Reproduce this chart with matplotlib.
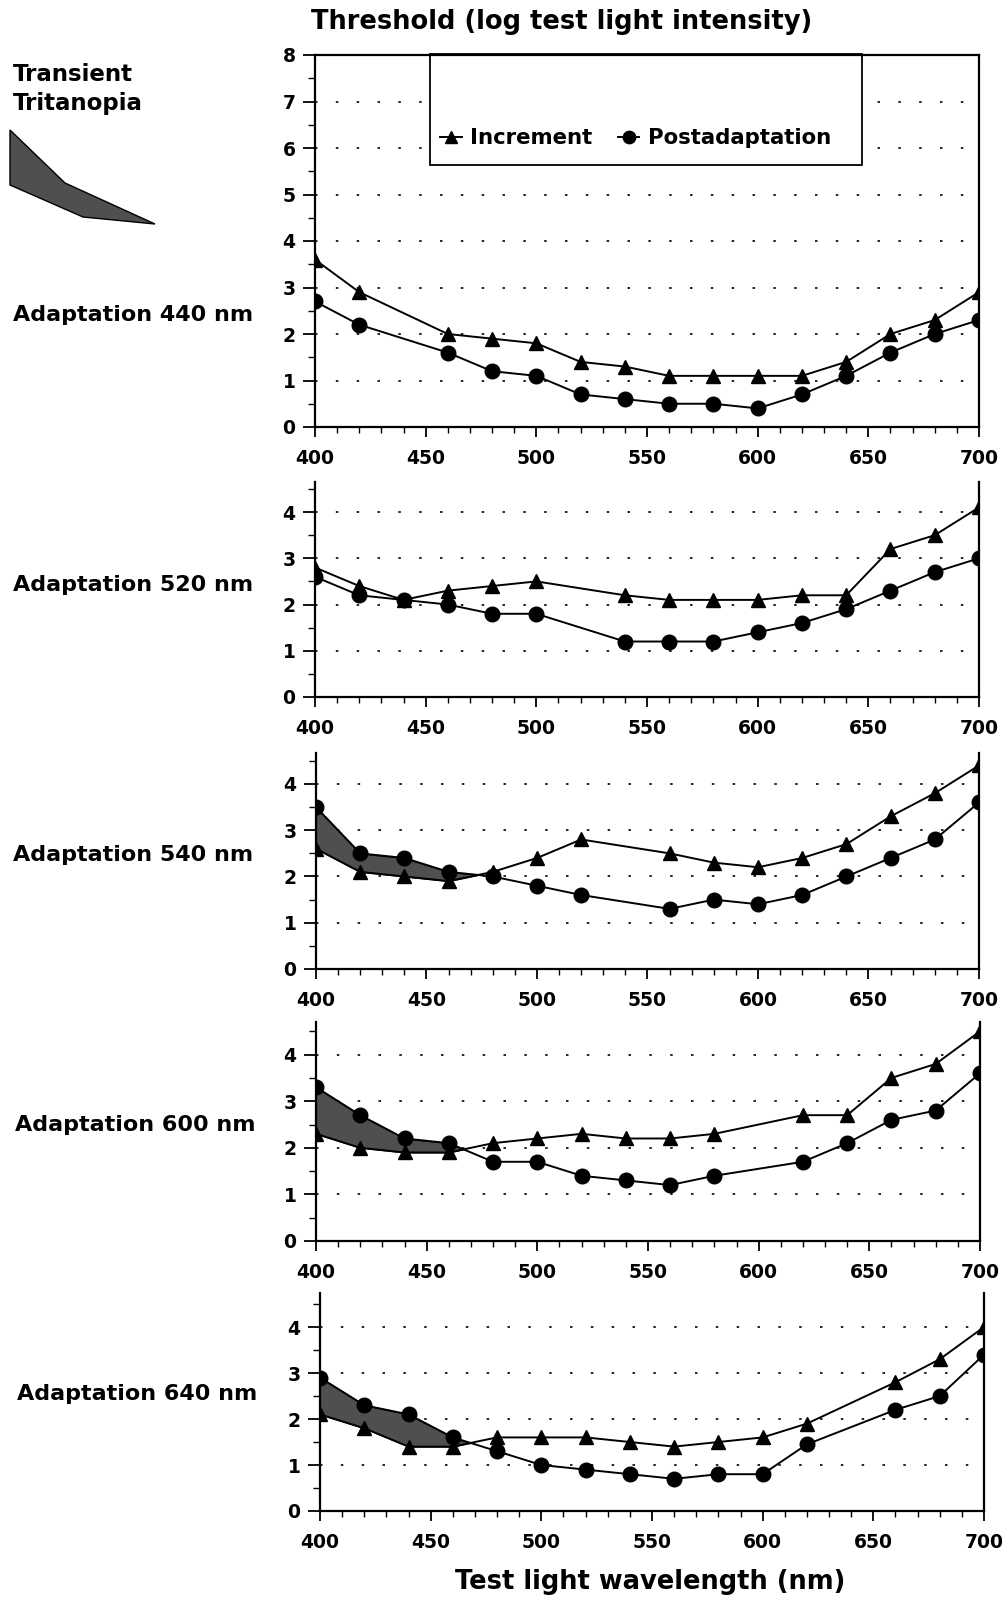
import numpy as np
import matplotlib
matplotlib.use("Agg")
import matplotlib.pyplot as plt
from matplotlib.patches import Rectangle, Polygon
from matplotlib.ticker import MultipleLocator

plt.rcParams['font.family'] = ['DejaVu Sans']
plt.rcParams['font.weight'] = 'bold'

# ---------------- Datos ----------------
adaptacion = ["440", "520", "540", "600", "640"]

x_440 = [400, 420, 460, 480, 500, 520, 540, 560, 580, 600, 620, 640, 660, 680, 700]
inc_440 = [3.6, 2.9, 2.0, 1.9, 1.8, 1.4, 1.3, 1.1, 1.1, 1.1, 1.1, 1.4, 2.0, 2.3, 2.9]
post_440 = [2.7, 2.2, 1.6, 1.2, 1.1, 0.7, 0.6, 0.5, 0.5, 0.4, 0.7, 1.1, 1.6, 2.0, 2.3]

x_520 = [400, 420, 440, 460, 480, 500, 540, 560, 580, 600, 620, 640, 660, 680, 700]
inc_520 = [2.8, 2.4, 2.1, 2.3, 2.4, 2.5, 2.2, 2.1, 2.1, 2.1, 2.2, 2.2, 3.2, 3.5, 4.1]
post_520 = [2.6, 2.2, 2.1, 2.0, 1.8, 1.8, 1.2, 1.2, 1.2, 1.4, 1.6, 1.9, 2.3, 2.7, 3.0]

x_540 = [400, 420, 440, 460, 480, 500, 520, 560, 580, 600, 620, 640, 660, 680, 700]
inc_540 = [2.6, 2.1, 2.0, 1.9, 2.1, 2.4, 2.8, 2.5, 2.3, 2.2, 2.4, 2.7, 3.3, 3.8, 4.4]
post_540 = [3.5, 2.5, 2.4, 2.1, 2.0, 1.8, 1.6, 1.3, 1.5, 1.4, 1.6, 2.0, 2.4, 2.8, 3.6]

x_600 = [400, 420, 440, 460, 480, 500, 520, 540, 560, 580, 620, 640, 660, 680, 700]
inc_600 = [2.3, 2.0, 1.9, 1.9, 2.1, 2.2, 2.3, 2.2, 2.2, 2.3, 2.7, 2.7, 3.5, 3.8, 4.5]
post_600 = [3.3, 2.7, 2.2, 2.1, 1.7, 1.7, 1.4, 1.3, 1.2, 1.4, 1.7, 2.1, 2.6, 2.8, 3.6]

x_640 = [400, 420, 440, 460, 480, 500, 520, 540, 560, 580, 600, 620, 660, 680, 700]
inc_640 = [2.1, 1.8, 1.4, 1.4, 1.6, 1.6, 1.6, 1.5, 1.4, 1.5, 1.6, 1.9, 2.8, 3.3, 4.0]
post_640 = [2.9, 2.3, 2.1, 1.6, 1.3, 1.0, 0.9, 0.8, 0.7, 0.8, 0.8, 1.45, 2.2, 2.5, 3.4]

X = [x_440, x_520, x_540, x_600, x_640]
INC = [inc_440, inc_520, inc_540, inc_600, inc_640]
POST = [post_440, post_520, post_540, post_600, post_640]
ytop = [8, 4.65, 4.67, 4.7, 4.74]

# ---------------- Figura ----------------
W, H = 1003, 1599
fig = plt.figure(figsize=(W / 100, H / 100), dpi=100)

# cajas de cada panel en pixeles (izq, der, arriba, abajo)
cajas = [(315, 979, 55, 427), (315, 979, 482, 697), (316, 979, 753, 969),
         (316, 980, 1022, 1241), (320, 984, 1293, 1511)]
etiqueta_y = [315, 585, 855, 1125, 1394]
etiqueta_x = [13, 13, 13, 15, 17]

gris = '#4f4f4f'
axs = []
for i in range(5):
    l, r, t, b = cajas[i]
    ax = fig.add_axes([l / W, 1 - b / H, (r - l) / W, (b - t) / H])
    axs.append(ax)
    x = np.array(X[i]); inc = np.array(INC[i]); post = np.array(POST[i])

    # zona sombreada (tritanopia transitoria)
    ax.fill_between(x, inc, post, where=post > inc, interpolate=True,
                    facecolor=gris, edgecolor='black', linewidth=0.8, zorder=1.8)
    ax.plot(x, inc, color='black', lw=1.4, marker='^', ms=10.5, zorder=3,
            label='Increment')
    ax.plot(x, post, color='black', lw=1.4, marker='o', ms=10.5, zorder=3,
            label='Postadaptation')

    ax.set_xlim(400, 700)
    ax.set_ylim(0, ytop[i])
    ax.xaxis.set_major_locator(MultipleLocator(50))
    ax.xaxis.set_minor_locator(MultipleLocator(10))
    ax.yaxis.set_major_locator(MultipleLocator(1))
    ax.yaxis.set_minor_locator(MultipleLocator(0.5))
    ax.tick_params(axis='x', which='major', direction='out', length=7, width=1.3,
                   pad=9, labelsize=13.5)
    ax.tick_params(axis='x', which='minor', direction='out', length=4, width=1)
    ax.tick_params(axis='y', which='major', direction='out', length=9, width=1.3,
                   pad=5, labelsize=13.5)
    ax.tick_params(axis='y', which='minor', direction='out', length=5, width=1)
    for lab in ax.get_xticklabels() + ax.get_yticklabels():
        lab.set_fontweight('bold')

    # lineas punteadas en enteros
    niveles = np.arange(1, int(np.ceil(ytop[i])))
    for yv in niveles:
        if yv < ytop[i] and yv > 0:
            ax.axhline(yv, color='black', lw=1.2, linestyle=(0, (1.5, 11)), zorder=0.5)

    for s in ax.spines.values():
        s.set_linewidth(1.6)
    if i > 0:
        ax.spines['top'].set_visible(False)

    fig.text(etiqueta_x[i] / W, 1 - etiqueta_y[i] / H, 'Adaptation ' + adaptacion[i] + ' nm',
             fontsize=16, fontweight='bold', va='center', ha='left')

# caja de leyenda del primer panel
ax1 = axs[0]
ax1.add_patch(Rectangle((0.173, 0.704), 0.651, 0.3, transform=ax1.transAxes,
                        facecolor='white', edgecolor='black', lw=1.3, zorder=1.5,
                        clip_on=False))
leg = ax1.legend(loc='center', bbox_to_anchor=(0.483, 0.777), ncol=2, frameon=False,
                 handlelength=1.0, handletextpad=0.4, columnspacing=1.2,
                 prop={'size': 15.3, 'weight': 'bold'}, markerscale=0.85)
leg.set_zorder(4)

# titulos
fig.text(562 / W, 1 - 22 / H, 'Threshold (log test light intensity)', fontsize=18.5,
         fontweight='bold', ha='center', va='center')
fig.text(650 / W, 1 - 1582 / H, 'Test light wavelength (nm)', fontsize=18.5,
         fontweight='bold', ha='center', va='center')

# leyenda "Transient Tritanopia"
fig.text(13 / W, 1 - 89 / H, 'Transient\nTritanopia', fontsize=16.5, fontweight='bold',
         ha='left', va='center', linespacing=1.35)
muestra = np.array([[10, 130], [65, 183], [155, 224], [83, 217], [10, 185]])
fig.patches.append(Polygon(np.column_stack([muestra[:, 0] / W, 1 - muestra[:, 1] / H]),
                           closed=True, transform=fig.transFigure, figure=fig,
                           facecolor=gris, edgecolor='black', lw=1))

plt.savefig('out.png', dpi=100)
